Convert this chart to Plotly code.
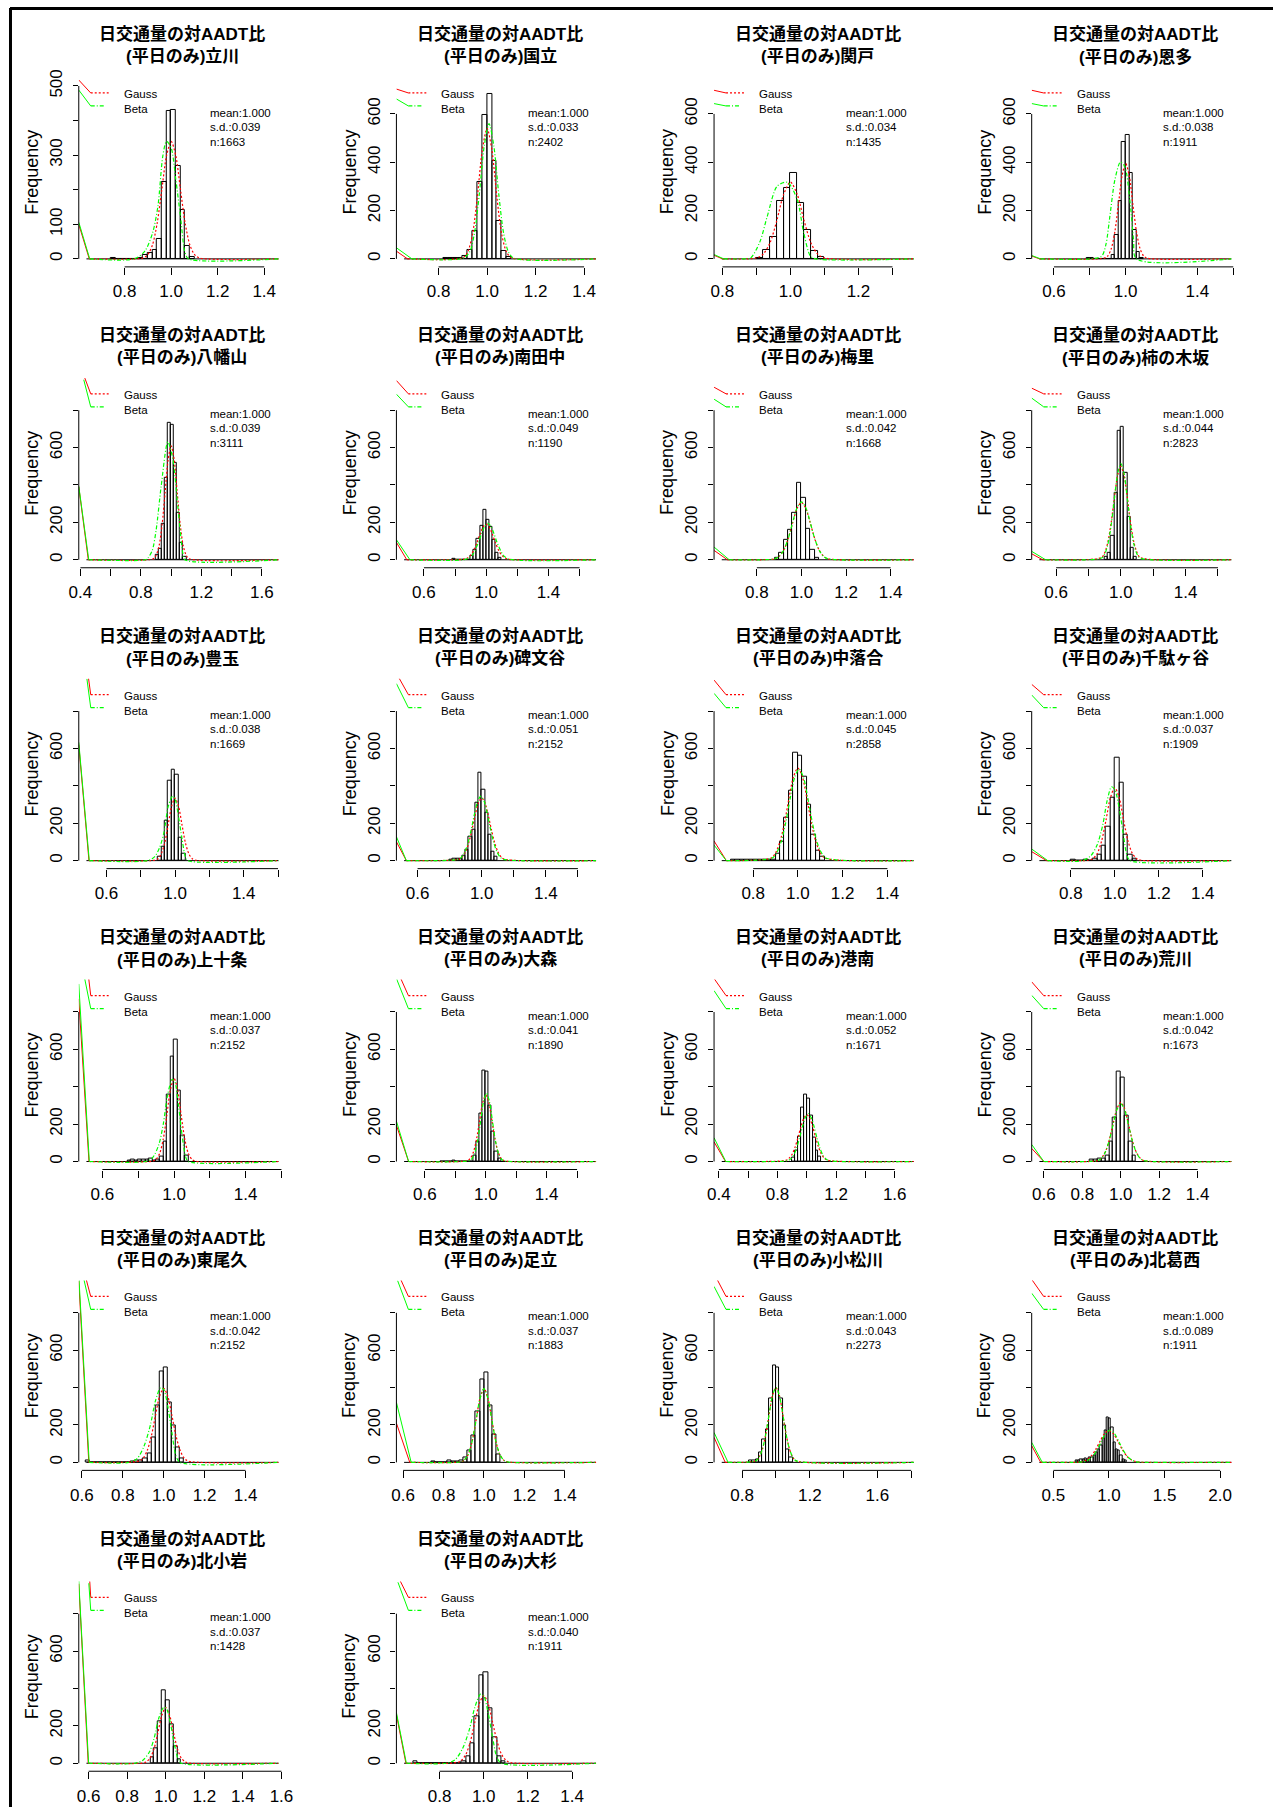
import plotly.graph_objects as go

W, H = 1280, 1807
# measured placement of the figure in the captured page:
# page_px = OFF + SCALE * figure_px  (applied in px()/py() below)
OFF_X, OFF_Y = 8.0, 8.0
SCALE_X, SCALE_Y = 0.990, 0.996

stations = ["立川", "国立", "関戸", "恩多", "八幡山", "南田中", "梅里", "柿の木坂",
            "豊玉", "碑文谷", "中落合", "千駄ヶ谷", "上十条", "大森", "港南", "荒川",
            "東尾久", "足立", "小松川", "北葛西", "北小岩", "大杉"]
mean_vals = [1.000] * 22
sd_vals = [0.039, 0.033, 0.034, 0.038, 0.039, 0.049, 0.042, 0.044, 0.038, 0.051, 0.045,
           0.037, 0.037, 0.041, 0.052, 0.042, 0.042, 0.037, 0.043, 0.089, 0.037, 0.040]
n_vals = [1663, 2402, 1435, 1911, 3111, 1190, 1668, 2823, 1669, 2152, 2858,
          1909, 2152, 1890, 1671, 1673, 2152, 1883, 2273, 1911, 1428, 1911]

# histogram: first bin left edge and counts (bin width 0.02)
bin_width = 0.02
bin_start = [0.74, 0.82, 0.90, 0.78, 0.90, 0.78, 0.88, 0.90, 0.90, 0.80, 0.70,
             0.80, 0.74, 0.70, 0.90, 0.84, 0.62, 0.74, 0.84, 0.70, 0.92, 0.68]
counts = [
    [2, 0, 0, 0, 0, 1, 2, 10, 17, 27, 58, 222, 429, 432, 268, 141, 37, 6],
    [4, 4, 5, 4, 14, 36, 114, 317, 597, 684, 407, 156, 32, 6],
    [4, 39, 91, 239, 294, 356, 232, 121, 32, 8],
    [3, 3, 0, 0, 0, 0, 0, 18, 97, 239, 484, 513, 356, 121, 28, 4],
    [27, 57, 193, 439, 731, 720, 520, 251, 90, 18],
    [5, 0, 0, 0, 0, 0, 20, 53, 110, 182, 267, 214, 178, 107, 39, 12],
    [10, 36, 107, 160, 250, 414, 330, 164, 53, 9],
    [14, 36, 128, 357, 692, 710, 464, 232, 62, 14],
    [21, 75, 211, 426, 488, 460, 122, 39],
    [5, 8, 10, 12, 25, 57, 128, 167, 310, 470, 378, 255, 137, 48, 21],
    [5, 5, 5, 5, 5, 5, 5, 5, 5, 5, 39, 101, 231, 376, 580, 559, 447, 300, 140, 51, 21],
    [5, 0, 0, 5, 0, 10, 30, 80, 180, 335, 548, 415, 137, 30, 8],
    [5, 8, 5, 10, 12, 8, 15, 5, 10, 25, 105, 360, 560, 653, 382, 141, 34],
    [0, 0, 0, 0, 5, 0, 0, 0, 0, 0, 0, 34, 105, 257, 488, 483, 301, 159, 52, 16],
    [20, 60, 132, 290, 358, 337, 248, 130, 60, 25],
    [10, 12, 15, 15, 34, 105, 234, 480, 448, 248, 109, 34],
    [10, 0, 0, 0, 0, 0, 0, 0, 0, 0, 0, 5, 8, 12, 20, 48, 134, 307, 487, 508, 321, 196, 80, 21],
    [5, 0, 0, 0, 8, 5, 5, 10, 27, 62, 143, 275, 446, 481, 303, 152, 45],
    [10, 12, 15, 52, 125, 178, 342, 520, 508, 342, 196, 70, 27],
    [8, 10, 14, 18, 21, 18, 27, 27, 36, 53, 71, 89, 128, 169, 241, 237, 187, 107, 71, 62, 36, 18, 9],
    [30, 78, 226, 392, 337, 207, 93, 21],
    [10, 0, 0, 0, 0, 0, 0, 0, 0, 0, 0, 12, 39, 105, 253, 471, 485, 292, 137, 39, 10],
]

# Gauss fit curves (red, dotted)
GX13 = [0.88, 0.90, 0.92, 0.94, 0.96, 0.98, 1.00, 1.02, 1.04, 1.06, 1.08, 1.10, 1.12]
GX11 = [0.90, 0.92, 0.94, 0.96, 0.98, 1.00, 1.02, 1.04, 1.06, 1.08, 1.10]
GX15 = [0.86, 0.88, 0.90, 0.92, 0.94, 0.96, 0.98, 1.00, 1.02, 1.04, 1.06, 1.08, 1.10, 1.12, 1.14]
GX20 = [0.72, 0.76, 0.80, 0.84, 0.88, 0.92, 0.96, 1.00, 1.04, 1.08, 1.12, 1.16, 1.20, 1.24, 1.28]
gauss_x = [GX13, GX11, GX11, GX13, GX13, GX15, GX13, GX13, GX13, GX15, GX13,
           GX13, GX13, GX13, GX15, GX13, GX13, GX13, GX13, GX20, GX13, GX13]
gauss_y = [
    [3, 13, 41, 104, 201, 298, 340, 298, 201, 104, 41, 13, 3],
    [5, 29, 103, 259, 449, 540, 449, 259, 103, 29, 5],
    [4, 20, 67, 159, 267, 318, 267, 159, 67, 20, 4],
    [3, 12, 43, 114, 227, 344, 395, 344, 227, 114, 43, 12, 3],
    [5, 23, 74, 187, 361, 535, 610, 535, 361, 187, 74, 23, 5],
    [3, 10, 24, 50, 90, 136, 175, 190, 175, 136, 90, 50, 24, 10, 3],
    [5, 18, 50, 111, 195, 274, 307, 274, 195, 111, 50, 18, 5],
    [12, 38, 96, 198, 331, 451, 500, 451, 331, 198, 96, 38, 12],
    [2, 10, 37, 96, 193, 292, 335, 292, 193, 96, 37, 10, 2],
    [8, 21, 49, 98, 168, 246, 310, 335, 310, 246, 168, 98, 49, 21, 8],
    [14, 42, 102, 203, 334, 448, 495, 448, 334, 203, 102, 42, 14],
    [2, 10, 38, 105, 217, 337, 390, 337, 217, 105, 38, 10, 2],
    [2, 12, 43, 120, 248, 384, 445, 384, 248, 120, 43, 12, 2],
    [5, 18, 53, 122, 220, 315, 355, 315, 220, 122, 53, 18, 5],
    [7, 18, 39, 77, 129, 186, 232, 250, 232, 186, 129, 77, 39, 18, 7],
    [5, 19, 52, 114, 201, 282, 316, 282, 201, 114, 52, 19, 5],
    [7, 23, 65, 143, 251, 354, 396, 354, 251, 143, 65, 23, 7],
    [2, 10, 38, 106, 220, 341, 395, 341, 220, 106, 38, 10, 2],
    [8, 27, 71, 151, 260, 359, 400, 359, 260, 151, 71, 27, 8],
    [1, 4, 14, 34, 69, 113, 154, 170, 154, 113, 69, 34, 14, 4, 1],
    [1, 8, 29, 80, 166, 257, 298, 257, 166, 80, 29, 8, 1],
    [4, 16, 49, 118, 220, 319, 362, 319, 220, 118, 49, 16, 4],
]

# Beta fit curves (green, dot-dash)
BXL1 = [0.84, 0.88, 0.915, 0.94, 0.965, 0.99, 1.005, 1.025, 1.045, 1.065, 1.08]
BXL2 = [0.83, 0.87, 0.905, 0.935, 0.96, 0.985, 1.0, 1.02, 1.04, 1.06, 1.08]
BX11 = [0.885, 0.905, 0.925, 0.945, 0.965, 0.985, 1.005, 1.025, 1.045, 1.065, 1.085, 1.105, 1.125]
beta_x = [
    [0.84, 0.886, 0.92, 0.943, 0.964, 0.98, 1.0, 1.02, 1.04, 1.06, 1.075],
    [0.90, 0.928, 0.948, 0.968, 0.988, 1.008, 1.028, 1.048, 1.068, 1.088, 1.11],
    [0.86, 0.883, 0.91, 0.932, 0.961, 0.991, 1.02, 1.039, 1.059, 1.075],
    [0.80, 0.866, 0.89, 0.912, 0.94, 0.971, 0.995, 1.023, 1.044, 1.06],
    [0.83, 0.846, 0.875, 0.901, 0.934, 0.978, 1.011, 1.044, 1.077, 1.09],
    [0.87, 0.91, 0.95, 0.97, 0.99, 1.01, 1.03, 1.05, 1.07, 1.11, 1.15],
    GX13, GX13,
    [0.84, 0.88, 0.91, 0.935, 0.96, 0.985, 1.0, 1.02, 1.04, 1.06, 1.075],
    [0.855, 0.875, 0.895, 0.915, 0.935, 0.955, 0.975, 0.995, 1.015, 1.035, 1.055, 1.075, 1.095, 1.115, 1.135],
    BX11,
    [0.85, 0.89, 0.92, 0.945, 0.965, 0.985, 1.0, 1.02, 1.04, 1.055, 1.07],
    BXL1, BX11,
    [0.87, 0.89, 0.91, 0.93, 0.95, 0.97, 0.99, 1.01, 1.03, 1.05, 1.07, 1.09, 1.11, 1.13, 1.15],
    GX13, BXL2, GX13, GX13,
    [0.73, 0.77, 0.81, 0.85, 0.89, 0.93, 0.97, 1.01, 1.05, 1.09, 1.13, 1.17, 1.21, 1.25, 1.29],
    BXL1, BXL2,
]
beta_y = [
    [0, 22, 75, 152, 297, 340, 321, 229, 123, 17, 0],
    [3, 29, 107, 269, 466, 560, 466, 269, 107, 29, 3],
    [0, 4, 70, 177, 301, 317, 245, 108, 11, 0],
    [0, 11, 60, 177, 328, 401, 383, 245, 80, 0],
    [0, 9, 50, 161, 394, 631, 538, 287, 36, 0],
    [3, 24, 92, 140, 179, 195, 179, 140, 92, 24, 3],
    [5, 18, 50, 111, 197, 277, 310, 277, 197, 111, 50, 18, 5],
    [9, 30, 84, 185, 327, 460, 515, 460, 327, 185, 84, 30, 9],
    [0, 20, 70, 150, 290, 345, 330, 235, 120, 20, 0],
    [7, 19, 47, 96, 168, 250, 318, 345, 318, 250, 168, 96, 47, 19, 7],
    [14, 42, 101, 201, 330, 444, 490, 444, 330, 201, 101, 42, 14],
    [0, 25, 85, 190, 320, 395, 380, 280, 130, 30, 0],
    [0, 20, 90, 200, 360, 440, 425, 300, 140, 25, 0],
    [3, 11, 40, 105, 210, 318, 365, 318, 210, 105, 40, 11, 3],
    [5, 14, 34, 71, 124, 185, 235, 255, 235, 185, 124, 71, 34, 14, 5],
    [5, 18, 51, 112, 197, 277, 310, 277, 197, 112, 51, 18, 5],
    [0, 20, 90, 200, 330, 400, 390, 300, 160, 35, 0],
    [2, 10, 38, 106, 220, 341, 395, 341, 220, 106, 38, 10, 2],
    [8, 27, 71, 151, 260, 359, 400, 359, 260, 151, 71, 27, 8],
    [1, 3, 11, 29, 63, 110, 154, 172, 154, 110, 63, 29, 11, 3, 1],
    [0, 15, 60, 135, 245, 300, 290, 210, 100, 20, 0],
    [0, 18, 80, 180, 300, 370, 360, 270, 140, 30, 0],
]

# steep initial drop of each curve: (value at left edge, x where it reaches 0)
gauss_drop = [(100, 0.648), (32, 0.672), (15, 0.80), (12, 0.52), (390, 0.452), (93, 0.49),
              (50, 0.668), (32, 0.517), (620, 0.498), (101, 0.53), (105, 0.68), (48, 0.69),
              (870, 0.525), (194, 0.493), (105, 0.445), (70, 0.60), (970, 0.634), (210, 0.633),
              (134, 0.70), (89, 0.386), (960, 0.598), (260, 0.648)]
beta_drop = [(106, 0.65), (46, 0.69), (18, 0.804), (14, 0.526), (394, 0.455), (107, 0.51),
             (68, 0.676), (45, 0.535), (633, 0.50), (128, 0.53), (83, 0.68), (62, 0.695),
             (950, 0.527), (216, 0.493), (127, 0.447), (91, 0.60), (1000, 0.636), (321, 0.64),
             (160, 0.717), (107, 0.40), (975, 0.60), (271, 0.65)]
# line running into the legend key: start point (x, y)
gauss_lead = [(0.603, 517), (0.626, 703), (0.775, 698), (0.476, 698), (0.429, 972), (0.423, 959),
              (0.608, 923), (0.449, 918), (0.495, 979), (0.483, 979), (0.625, 966), (0.622, 943),
              (0.523, 984), (0.439, 984), (0.367, 979), (0.537, 961), (0.621, 980), (0.588, 979),
              (0.652, 979), (0.305, 979), (0.606, 973), (0.623, 973)]
beta_lead = [(0.603, 488), (0.626, 662), (0.775, 643), (0.476, 643), (0.422, 963), (0.423, 886),
             (0.608, 859), (0.449, 865), (0.486, 973), (0.468, 947), (0.625, 895), (0.622, 886),
             (0.501, 979), (0.413, 979), (0.367, 914), (0.537, 889), (0.610, 979), (0.573, 972),
             (0.634, 941), (0.305, 905), (0.601, 963), (0.612, 968)]

# axes
XT_A = [0.8, 1.0, 1.2, 1.4]
XL_A = ["0.8", "1.0", "1.2", "1.4"]
XT_B = [0.6, 0.8, 1.0, 1.2, 1.4, 1.6]
XL_B = ["0.6", "", "1.0", "", "1.4", ""]
XT_C = [0.4, 0.6, 0.8, 1.0, 1.2, 1.4, 1.6]
XL_C = ["0.4", "", "0.8", "", "1.2", "", "1.6"]
XT_D = [0.6, 0.8, 1.0, 1.2, 1.4]
XL_D = ["0.6", "0.8", "1.0", "1.2", "1.4"]
x_ticks = [XT_A, XT_A, [0.8, 0.9, 1.0, 1.1, 1.2, 1.3], XT_B, XT_C, XT_B, XT_A, XT_B,
           XT_B, XT_B, XT_A, XT_A, XT_B, XT_B, XT_C, XT_D, XT_D, XT_D,
           [0.8, 1.0, 1.2, 1.4, 1.6, 1.8], [0.5, 1.0, 1.5, 2.0], XT_B, XT_A]
x_labels = [XL_A, XL_A, ["0.8", "", "1.0", "", "1.2", ""], XL_B, XL_C, XL_B, XL_A, XL_B,
            XL_B, XL_B, XL_A, XL_A, XL_B, XL_B, XL_C, XL_D, XL_D, XL_D,
            ["0.8", "", "1.2", "", "1.6", ""], ["0.5", "1.0", "1.5", "2.0"],
            ["0.6", "0.8", "1.0", "1.2", "1.4", "1.6"], XL_A]
YT_1 = [0, 100, 200, 300, 400, 500]
YL_1 = ["0", "100", "", "300", "", "500"]
YT_2 = [0, 200, 400, 600]
YL_2 = ["0", "200", "400", "600"]
YT_3 = [0, 200, 400, 600, 800]
YL_3 = ["0", "200", "", "600", ""]
y_ticks = [YT_1, YT_2, YT_2, YT_2] + [YT_3] * 18
y_labels = [YL_1, YL_2, YL_2, YL_2] + [YL_3] * 18

# layout: x range of each panel and vertical scale (px per count)
x_range = [(0.6028, 1.494), (0.626, 1.481), (0.7754, 1.385), (0.476, 1.632),
           (0.389, 1.760), (0.4233, 1.755), (0.608, 1.538), (0.449, 1.730),
           (0.4386, 1.647), (0.468, 1.761), (0.625, 1.552), (0.622, 1.565),
           (0.468, 1.626), (0.413, 1.775), (0.367, 1.782), (0.537, 1.615),
           (0.585, 1.598), (0.567, 1.592), (0.634, 1.860), (0.305, 2.170),
           (0.549, 1.624), (0.605, 1.543)]
y_scale = [0.346, 0.2417, 0.2417, 0.2417] + [0.187] * 18

PW = 208      # plot width px
TOP = 182     # px above zero line
BOT = 8       # px below zero line
LATIN = "Liberation Sans, Arial, sans-serif"
TITLEFONT = "Liberation Sans, Noto Sans CJK JP, sans-serif"
RED = "#FF0000"
GREEN = "#00FF00"

fig = go.Figure()
shapes = []
annotations = []
layout_axes = {}


def px(x):
    return (x - OFF_X) / SCALE_X / W


def py(y):
    return 1 - (y - OFF_Y) / SCALE_Y / H


for i, name in enumerate(stations):
    r, c = divmod(i, 4)
    ax0 = 77 + 318.7 * c
    base = 259 + 301 * r
    xr = "x" if i == 0 else f"x{i+1}"
    yr = "y" if i == 0 else f"y{i+1}"
    s = y_scale[i]
    xlo, xhi = x_range[i]
    ylo, yhi = -BOT / s, TOP / s
    xspan = xhi - xlo
    b_lo = xlo + xspan * 0.04 / 1.08
    b_hi = xhi - xspan * 0.04 / 1.08

    layout_axes["xaxis" if i == 0 else f"xaxis{i+1}"] = dict(
        domain=[px(ax0), px(ax0 + PW)], range=[xlo, xhi], anchor=yr,
        tickmode="array", tickvals=x_ticks[i], ticktext=x_labels[i],
        ticks="outside", ticklen=7, tickwidth=1, tickcolor="black",
        showgrid=False, zeroline=False, showline=False, ticklabelstandoff=2,
        tickfont=dict(family=LATIN, size=17, color="black"), fixedrange=True)
    layout_axes["yaxis" if i == 0 else f"yaxis{i+1}"] = dict(
        domain=[py(base + BOT), py(base - TOP)], range=[ylo, yhi], anchor=xr,
        tickmode="array", tickvals=y_ticks[i], ticktext=y_labels[i],
        ticks="outside", ticklen=5, tickwidth=1, tickcolor="black", tickangle=-90,
        showgrid=False, zeroline=False, showline=False, ticklabelstandoff=4,
        tickfont=dict(family=LATIN, size=17, color="black"), fixedrange=True)

    # histogram bars
    cnt = counts[i]
    centers = [bin_start[i] + bin_width * (k + 0.5) for k in range(len(cnt))]
    fig.add_trace(go.Bar(x=centers, y=cnt, width=bin_width, xaxis=xr, yaxis=yr,
                         marker=dict(color="rgba(0,0,0,0)", line=dict(color="black", width=1)),
                         hoverinfo="skip"))
    fig.add_trace(go.Scatter(x=[b_lo, b_hi], y=[0, 0], mode="lines", xaxis=xr, yaxis=yr,
                             line=dict(color="black", width=1), hoverinfo="skip"))

    # legend key positions in data units
    lx0 = xlo + 12 / PW * xspan
    lx1 = xlo + 30 / PW * xspan
    lx1b = xlo + 26 / PW * xspan
    ly_g = ylo + (BOT + 166) / (TOP + BOT) * (yhi - ylo)
    ly_b = ylo + (BOT + 153) / (TOP + BOT) * (yhi - ylo)

    for col, dash, cx, cy, drop, lead, lyy, lend in [
        (RED, "2px,2px", gauss_x[i], gauss_y[i], gauss_drop[i], gauss_lead[i], ly_g, lx1),
        (GREEN, "4px,2px,1px,2px", beta_x[i], beta_y[i], beta_drop[i], beta_lead[i], ly_b, lx1b),
    ]:
        v0, xz = drop
        fig.add_trace(go.Scatter(x=[xlo, xz], y=[v0, 0], mode="lines", xaxis=xr, yaxis=yr,
                                 line=dict(color=col, width=1), hoverinfo="skip"))
        fig.add_trace(go.Scatter(x=[xz] + list(cx) + [b_hi], y=[0] + list(cy) + [0],
                                 mode="lines", xaxis=xr, yaxis=yr,
                                 line=dict(color=col, width=1.2, dash=dash, shape="spline",
                                           smoothing=0.8),
                                 hoverinfo="skip"))
        fig.add_trace(go.Scatter(x=[lead[0], lx0], y=[lead[1], lyy], mode="lines",
                                 xaxis=xr, yaxis=yr, line=dict(color=col, width=1),
                                 hoverinfo="skip"))
        fig.add_trace(go.Scatter(x=[lx0, lend], y=[lyy, lyy], mode="lines",
                                 xaxis=xr, yaxis=yr, line=dict(color=col, width=1.2, dash=dash),
                                 hoverinfo="skip"))

    # axis lines (R style: from first to last tick)
    shapes.append(dict(type="line", xref=xr, yref=f"{yr} domain", x0=x_ticks[i][0],
                       x1=x_ticks[i][-1], y0=0, y1=0, line=dict(color="black", width=1)))
    shapes.append(dict(type="line", xref=f"{xr} domain", yref=yr, x0=0, x1=0,
                       y0=0, y1=y_ticks[i][-1], line=dict(color="black", width=1)))

    # titles
    cxp = px(ax0 + PW / 2)
    annotations.append(dict(x=cxp, y=py(base - 224), xref="paper", yref="paper",
                            text="<b>日交通量の対AADT比</b>", showarrow=False,
                            xanchor="center", yanchor="middle",
                            font=dict(family=TITLEFONT, size=17, color="black")))
    annotations.append(dict(x=cxp, y=py(base - 202), xref="paper", yref="paper",
                            text=f"<b>(平日のみ){name}</b>", showarrow=False,
                            xanchor="center", yanchor="middle",
                            font=dict(family=TITLEFONT, size=17, color="black")))
    annotations.append(dict(x=px(ax0 - 47), y=py(base - 87), xref="paper", yref="paper",
                            text="Frequency", showarrow=False, textangle=-90,
                            xanchor="center", yanchor="middle",
                            font=dict(family=LATIN, size=18, color="black")))
    # legend text
    for txt, yy in [("Gauss", base - 165), ("Beta", base - 150)]:
        annotations.append(dict(x=px(ax0 + 43), y=py(yy), xref="paper", yref="paper",
                                text=txt, showarrow=False, xanchor="left", yanchor="middle",
                                font=dict(family=LATIN, size=11.5, color="black")))
    # stats
    for txt, yy in [(f"mean:{mean_vals[i]:.3f}", base - 146),
                    (f"s.d.:{sd_vals[i]:.3f}", base - 131.5),
                    (f"n:{n_vals[i]}", base - 117)]:
        annotations.append(dict(x=px(ax0 + 130), y=py(yy), xref="paper", yref="paper",
                                text=txt, showarrow=False, xanchor="left", yanchor="middle",
                                font=dict(family=LATIN, size=11.5, color="black")))

# frame (top and left edges)
shapes.append(dict(type="line", xref="paper", yref="paper", x0=0, x1=1,
                   y0=py(8.5), y1=py(8.5), line=dict(color="black", width=3)))
shapes.append(dict(type="line", xref="paper", yref="paper", x0=px(8.5), x1=px(8.5),
                   y0=0, y1=1, line=dict(color="black", width=3)))

fig.update_layout(width=W, height=H, margin=dict(l=0, r=0, t=0, b=0),
                  paper_bgcolor="white", plot_bgcolor="rgba(0,0,0,0)",
                  showlegend=False, bargap=0, shapes=shapes, annotations=annotations,
                  **layout_axes)

fig.write_html("out.html")
